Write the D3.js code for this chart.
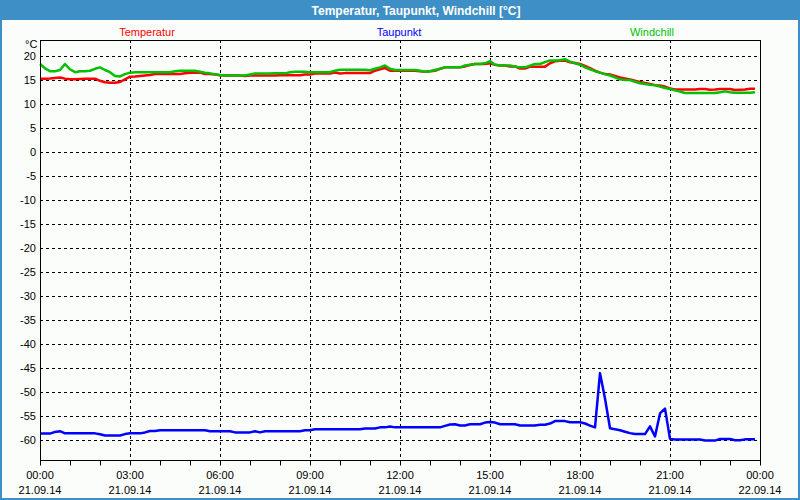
<!DOCTYPE html>
<html>
<head>
<meta charset="utf-8">
<script src="https://cdn.jsdelivr.net/npm/d3@7"></script>
<style>
  body { margin: 0; background: #fbfdfb; }
  svg { display: block; font-family: "Liberation Sans", Arial, sans-serif; }
</style>
</head>
<body>
<svg width="800" height="500"></svg>
<script>
// 10 minute readings, 21.09.14 00:00 .. 23:50
var temperatur = [
  15.35, 15.35, 15.4, 15.5, 15.6, 15.35, 15.2, 15.2, 15.3, 15.35, 15.35, 15.35,
  14.9, 14.6, 14.5, 14.5, 14.65, 15.2, 15.75, 15.8, 15.9, 16.0, 16.1, 16.3,
  16.3, 16.3, 16.3, 16.3, 16.3, 16.45, 16.6, 16.6, 16.6, 16.3, 16.3, 16.2,
  16.05, 16.0, 16.0, 16.0, 16.0, 15.9, 16.0, 16.0, 16.0, 16.0, 16.0, 16.0,
  16.05, 16.05, 16.05, 16.05, 16.05, 16.2, 16.2, 16.4, 16.4, 16.4, 16.4, 16.6,
  16.4, 16.5, 16.5, 16.5, 16.5, 16.5, 16.5, 17.0, 17.3, 17.55, 17.0, 17.0,
  17.0, 17.0, 17.0, 17.0, 16.9, 16.8, 16.9, 17.0, 17.4, 17.7, 17.7, 17.7,
  17.7, 17.9, 18.2, 18.4, 18.4, 18.4, 18.55, 18.25, 18.1, 18.1, 17.9, 17.9,
  17.45, 17.45, 17.85, 17.85, 17.85, 17.85, 18.55, 18.95, 19.1, 19.1, 18.75, 18.6,
  18.4, 18.0, 17.55, 17.0, 16.6, 16.3, 16.2, 15.9, 15.6, 15.4, 15.2, 14.9,
  14.65, 14.45, 14.25, 14.0, 13.9, 13.7, 13.3, 13.1, 13.1, 13.1, 13.1, 13.1,
  13.2, 13.2, 13.05, 13.1, 13.2, 13.2, 13.2, 13.0, 13.05, 13.1, 13.25, 13.25
];

var taupunkt = [
  -58.6, -58.6, -58.6, -58.25, -58.1, -58.55, -58.55, -58.55, -58.55, -58.55, -58.55, -58.55,
  -58.75, -59.0, -59.0, -59.0, -59.0, -58.7, -58.55, -58.55, -58.55, -58.35, -58.05, -58.05,
  -57.9, -57.9, -57.9, -57.9, -57.9, -57.9, -57.9, -57.9, -57.9, -57.9, -58.1, -58.1,
  -58.1, -58.1, -58.1, -58.35, -58.35, -58.35, -58.35, -58.1, -58.35, -58.1, -58.1, -58.1,
  -58.1, -58.1, -58.1, -58.1, -58.1, -57.9, -57.9, -57.7, -57.7, -57.7, -57.7, -57.7,
  -57.7, -57.7, -57.7, -57.7, -57.7, -57.55, -57.55, -57.55, -57.3, -57.3, -57.1, -57.3,
  -57.3, -57.3, -57.3, -57.3, -57.3, -57.3, -57.3, -57.3, -57.3, -57.0, -56.7, -56.65,
  -56.9, -56.9, -56.65, -56.65, -56.65, -56.3, -56.2, -56.3, -56.65, -56.65, -56.65, -56.65,
  -56.9, -56.9, -56.9, -56.9, -56.75, -56.75, -56.5, -56.0, -56.0, -56.0, -56.25, -56.25,
  -56.25, -56.5, -56.95, -57.3, -46.0, -51.3, -57.5, -57.7, -57.9, -58.2, -58.5, -58.7,
  -58.7, -58.7, -57.1, -59.2, -54.4, -53.4, -59.7, -59.85, -59.85, -59.85, -59.85, -59.85,
  -59.85, -60.05, -60.05, -60.05, -59.7, -59.7, -59.7, -60.0, -60.0, -59.8, -59.8, -59.8
];

var windchill = [
  18.4, 17.5, 16.9, 16.9, 17.15, 18.4, 17.3, 16.7, 16.9, 16.9, 17.0, 17.4,
  17.7, 17.15, 16.7, 15.9, 15.8, 16.3, 16.6, 16.7, 16.7, 16.7, 16.7, 16.7,
  16.7, 16.7, 16.7, 16.9, 17.0, 17.0, 17.0, 17.0, 16.8, 16.6, 16.45, 16.25,
  16.1, 16.0, 16.0, 16.0, 16.0, 16.0, 16.2, 16.4, 16.4, 16.4, 16.4, 16.45,
  16.45, 16.45, 16.7, 16.8, 16.8, 16.8, 16.7, 16.7, 16.7, 16.7, 16.7, 17.0,
  17.2, 17.2, 17.2, 17.2, 17.2, 17.2, 17.1, 17.4, 17.7, 18.1, 17.4, 17.15,
  17.15, 17.15, 17.15, 17.15, 17.0, 16.8, 16.9, 17.15, 17.4, 17.7, 17.7, 17.7,
  17.7, 18.1, 18.25, 18.4, 18.4, 18.55, 19.0, 18.25, 18.1, 18.1, 18.1, 17.9,
  17.7, 17.7, 18.05, 18.4, 18.4, 18.8, 19.15, 19.15, 19.2, 19.4, 18.9, 18.55,
  18.25, 17.7, 17.3, 16.9, 16.6, 16.3, 16.0, 15.6, 15.2, 15.05, 15.05, 14.7,
  14.4, 14.25, 14.1, 13.95, 13.7, 13.4, 13.2, 12.9, 12.65, 12.35, 12.35, 12.35,
  12.35, 12.35, 12.35, 12.35, 12.5, 12.7, 12.5, 12.4, 12.4, 12.4, 12.4, 12.5
];

var series = [
  { name: "Temperatur", values: temperatur, color: "#ff0000", lx: 147 },
  { name: "Taupunkt", values: taupunkt, color: "#0000ff", lx: 399 },
  { name: "Windchill", values: windchill, color: "#00c000", lx: 652 }
];

var yTicks = [20, 15, 10, 5, 0, -5, -10, -15, -20, -25, -30, -35, -40, -45, -50, -55, -60];

var start = new Date(2014, 8, 21, 0, 0);
var end = new Date(2014, 8, 22, 0, 0);
var times = temperatur.map((d, i) => d3.timeMinute.offset(start, i * 10));

// plot box
var box = { left: 40, right: 760, top: 40, bottom: 460 };

var svg = d3.select('svg');

var xScale = d3.scaleTime()
    .domain([start, end])
    .range([box.left, box.right]);

var yScale = d3.scaleLinear()
    .domain([-64.1, 23.4])
    .range([box.bottom, box.top]);

// window frame + title bar
svg.append('rect')
    .attr('x', 0).attr('y', 0).attr('width', 800).attr('height', 500)
    .attr('fill', '#fbfdfb');
svg.append('rect')
    .attr('x', 0).attr('y', 0).attr('width', 800).attr('height', 20)
    .attr('fill', '#3d8fc5');
svg.append('path')
    .attr('d', 'M1,20V499H799V20')
    .attr('fill', 'none')
    .attr('stroke', '#3d8fc5')
    .attr('stroke-width', 2);

svg.append('text')
    .attr('x', 416)
    .attr('y', 15)
    .attr('fill', '#ffffff')
    .style('font-weight', 'bold')
    .style('font-size', '12px')
    .style('text-anchor', 'middle')
    .text('Temperatur, Taupunkt, Windchill [°C]');

//Grid lines
svg.append('g')
    .selectAll('line')
    .data(yTicks)
    .enter()
    .append('line')
        .attr('x1', box.left).attr('x2', box.right)
        .attr('y1', d => Math.round(yScale(d)) + 0.5)
        .attr('y2', d => Math.round(yScale(d)) + 0.5)
        .attr('stroke', '#000')
        .attr('stroke-dasharray', '3,3');

var xMajor = d3.timeHour.every(3).range(start, d3.timeMinute.offset(end, 1));

svg.append('g')
    .selectAll('line')
    .data(xMajor.slice(1, -1))
    .enter()
    .append('line')
        .attr('x1', d => Math.round(xScale(d)) + 0.5)
        .attr('x2', d => Math.round(xScale(d)) + 0.5)
        .attr('y1', box.top).attr('y2', box.bottom)
        .attr('stroke', '#000')
        .attr('stroke-dasharray', '3,3');

// y labels
svg.append('g')
    .selectAll('text')
    .data(yTicks)
    .enter()
    .append('text')
        .attr('x', 36)
        .attr('y', d => yScale(d) + 4)
        .style('text-anchor', 'end')
        .style('font-size', '11px')
        .text(d => String(d));

svg.append('text')
    .attr('x', 25)
    .attr('y', 48)
    .style('font-size', '11px')
    .text('°C');

// hour ticks below the box
var xAxis = d3.axisBottom(xScale)
    .ticks(d3.timeHour.every(1))
    .tickSize(5)
    .tickSizeOuter(0)
    .tickFormat('');

svg.append('g')
    .attr('transform', 'translate(0,' + (box.bottom + 0.5) + ')')
    .call(xAxis)
    .call(g => g.select('.domain').remove());

// time / date labels
var fmtTime = d3.timeFormat('%H:%M');
var fmtDate = d3.timeFormat('%d.%m.%y');
var xl = svg.append('g')
    .selectAll('g')
    .data(xMajor)
    .enter()
    .append('g')
        .attr('transform', d => 'translate(' + xScale(d) + ',0)')
        .style('font-size', '11px')
        .style('text-anchor', 'middle');
xl.append('text').attr('y', 479).text(d => fmtTime(d));
xl.append('text').attr('y', 494).text(d => fmtDate(d));

// lines
var line = d3.line()
    .x((d, i) => xScale(times[i]))
    .y(d => yScale(d));

svg.append('g')
    .selectAll('path')
    .data(series)
    .enter()
    .append('path')
        .attr('d', d => line(d.values))
        .attr('fill', 'none')
        .attr('stroke', d => d.color)
        .attr('stroke-width', 2.5)
        .attr('stroke-linejoin', 'round');

// plot frame
svg.append('rect')
    .attr('x', box.left + 0.5).attr('y', box.top + 0.5)
    .attr('width', box.right - box.left).attr('height', box.bottom - box.top)
    .attr('fill', 'none')
    .attr('stroke', '#000');

// legend
svg.append('g')
    .selectAll('text')
    .data(series)
    .enter()
    .append('text')
        .attr('x', d => d.lx)
        .attr('y', 36)
        .attr('fill', d => d.color)
        .style('font-size', '11px')
        .style('text-anchor', 'middle')
        .text(d => d.name);
</script>
</body>
</html>
